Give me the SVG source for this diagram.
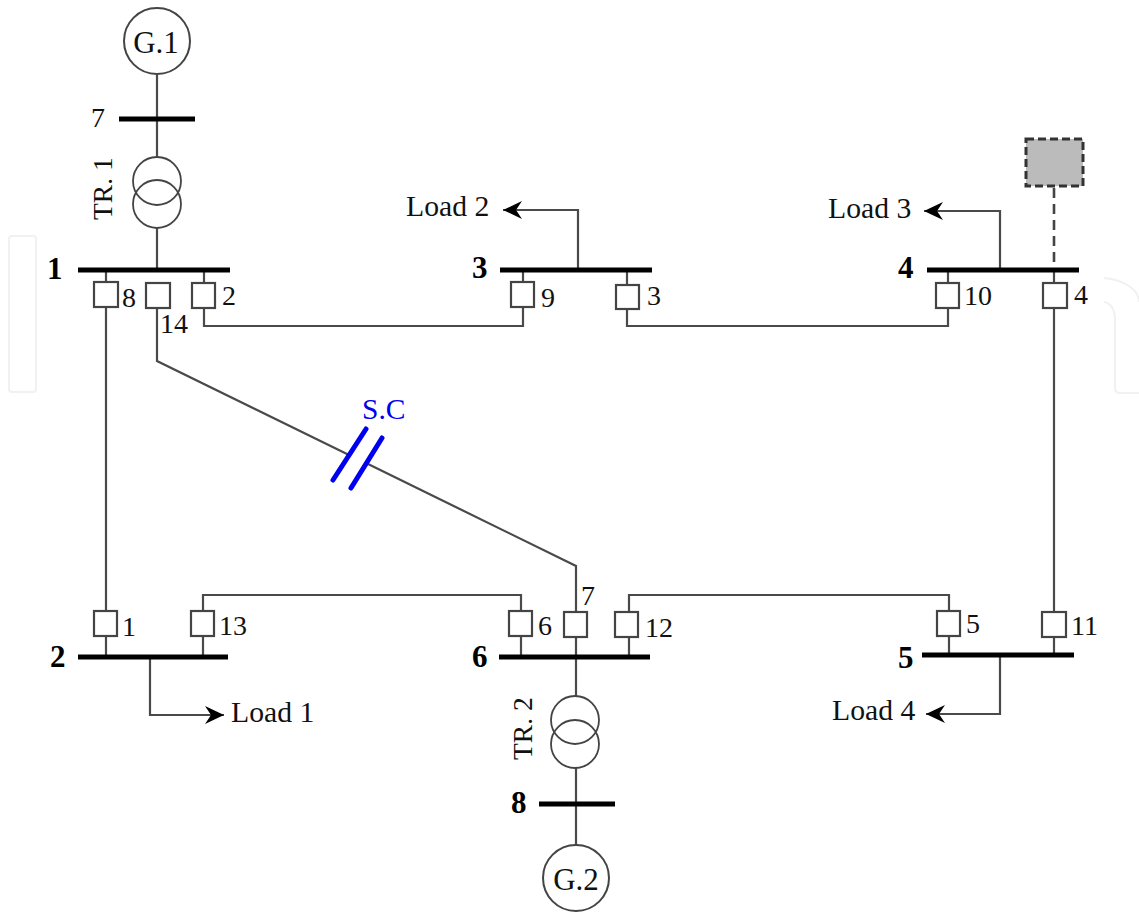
<svg xmlns="http://www.w3.org/2000/svg" width="1139" height="914" viewBox="0 0 1139 914">
<defs>
<marker id="arr" markerUnits="userSpaceOnUse" markerWidth="22" markerHeight="20" refX="19" refY="10" orient="auto"><path d="M0 1 L19 10 L0 19 L6 10 Z" fill="#000"/></marker>
</defs>
<style>
text{font-family:"Liberation Serif","Times New Roman",serif;fill:#111}
.l{font-size:29.7px}
.tr{font-size:27.5px}
.n{font-size:28px}
.b{font-size:31px;font-weight:bold;fill:#000}
.bus{stroke:#000;stroke-width:5;fill:none}
.w{stroke:#4a4a4a;stroke-width:2.2;fill:none}
.t{stroke:#444;stroke-width:1.8;fill:none}
.sw{fill:#fff;stroke:#444;stroke-width:2.2}
</style>
<rect width="1139" height="914" fill="#fff"/>
<g id="watermark" fill="none" stroke="#f1f1f1" stroke-width="2">
<rect x="9" y="236" width="27" height="156" rx="3"/>
<path d="M1104 278 C1125 280 1139 290 1139 302 M1104 302 C1111 303 1115 310 1115 320 L1115 388 Q1115 393 1120 393 L1139 393"/>
</g>
<g id="connectors">
<path class="w" d="M157 75V157M157 228V270"/>
<path class="w" d="M106 270V284M106 307V610M106 637V657"/>
<path class="w" d="M157 282V361L348 454.5M366 463L576 566V611"/>
<path class="w" d="M204 270V284M204 307V326H523V307M523 270V284"/>
<path class="w" d="M627 270V285M627 308V326H948V308M948 270V285"/>
<path class="w" d="M1054 308V613M1054 270V285M1054 636V655"/>
<path d="M1054 188V270" fill="none" stroke="#444" stroke-width="2.6" stroke-dasharray="10 6"/>
<path class="w" d="M578 270V210H503" marker-end="url(#arr)"/>
<path class="w" d="M1000 270V211H924" marker-end="url(#arr)"/>
<path class="w" d="M150 657V715H224" marker-end="url(#arr)"/>
<path class="w" d="M1000 655V714H926" marker-end="url(#arr)"/>
<path class="w" d="M203 611V595H521V612M203 636V657M521 636V657"/>
<path class="w" d="M629 612V595H949V612M629 637V657M949 636V655"/>
<path class="w" d="M576 636V696M576 768V855"/>
<path d="M333 480L366 429M351 488L382 438" fill="none" stroke="#0000f0" stroke-width="5" stroke-linecap="round"/>
</g>
<g id="bus-1"><path class="bus" d="M78 270H230"/><text class="b" x="47" y="279">1</text></g>
<g id="bus-2"><path class="bus" d="M78 657H228"/><text class="b" x="50" y="667">2</text></g>
<g id="bus-3"><path class="bus" d="M500 270H652"/><text class="b" x="472" y="278">3</text></g>
<g id="bus-4"><path class="bus" d="M927 270H1079"/><text class="b" x="898" y="278">4</text></g>
<g id="bus-5"><path class="bus" d="M922 655H1074"/><text class="b" x="898" y="668">5</text></g>
<g id="bus-6"><path class="bus" d="M499 657H650"/><text class="b" x="472" y="667">6</text></g>
<g id="bus-7"><path class="bus" d="M119 119H195"/><text class="n" x="91" y="127">7</text></g>
<g id="bus-8"><path class="bus" d="M539 804H615"/><text class="b" x="511" y="813">8</text></g>
<g id="gen-1"><circle cx="157" cy="41" r="33" fill="#fff" stroke="#444" stroke-width="2"/><text x="156" y="53" text-anchor="middle" style="font-size:31px">G.1</text></g>
<g id="gen-2"><circle cx="576" cy="878" r="33" fill="#fff" stroke="#444" stroke-width="2"/><text x="576" y="890" text-anchor="middle" style="font-size:31px">G.2</text></g>
<g id="tr-1"><circle class="t" cx="157" cy="181" r="24"/><circle class="t" cx="157" cy="204" r="24"/><text class="tr" transform="translate(112 220) rotate(-90)">TR. 1</text></g>
<g id="tr-2"><circle class="t" cx="575" cy="720" r="24"/><circle class="t" cx="575" cy="744" r="24"/><text class="tr" transform="translate(532 760) rotate(-90)">TR. 2</text></g>
<g id="sw-8"><rect class="sw" x="94" y="282" width="24" height="25"/><text class="n" x="122" y="307">8</text></g>
<g id="sw-14"><rect class="sw" x="146" y="283" width="24" height="25"/><text class="n" x="160" y="333">14</text></g>
<g id="sw-2"><rect class="sw" x="192" y="283" width="23" height="25"/><text class="n" x="222" y="305">2</text></g>
<g id="sw-9"><rect class="sw" x="511" y="282" width="23" height="25"/><text class="n" x="541" y="307">9</text></g>
<g id="sw-3"><rect class="sw" x="616" y="285" width="23" height="24"/><text class="n" x="647" y="305">3</text></g>
<g id="sw-10"><rect class="sw" x="936" y="283" width="23" height="25"/><text class="n" x="964" y="305">10</text></g>
<g id="sw-4"><rect class="sw" x="1043" y="283" width="24" height="25"/><text class="n" x="1074" y="304">4</text></g>
<g id="sw-1"><rect class="sw" x="94" y="611" width="23" height="25"/><text class="n" x="122" y="636">1</text></g>
<g id="sw-13"><rect class="sw" x="191" y="611" width="23" height="25"/><text class="n" x="219" y="635">13</text></g>
<g id="sw-6"><rect class="sw" x="509" y="611" width="23" height="25"/><text class="n" x="538" y="635">6</text></g>
<g id="sw-7"><rect class="sw" x="564" y="612" width="23" height="25"/><text class="n" x="581" y="605">7</text></g>
<g id="sw-12"><rect class="sw" x="615" y="612" width="23" height="25"/><text class="n" x="645" y="637">12</text></g>
<g id="sw-5"><rect class="sw" x="937" y="611" width="23" height="25"/><text class="n" x="966" y="633">5</text></g>
<g id="sw-11"><rect class="sw" x="1042" y="612" width="24" height="25"/><text class="n" x="1071" y="635">11</text></g>
<g id="load-1"><text class="l" x="231" y="722">Load 1</text></g>
<g id="load-2"><text class="l" x="406" y="216">Load 2</text></g>
<g id="load-3"><text class="l" x="828" y="218">Load 3</text></g>
<g id="load-4"><text class="l" x="832" y="720">Load 4</text></g>
<g id="sc"><text x="362" y="419" style="font-size:29.5px;fill:#0000f0">S.C</text></g>
<g id="dg"><rect x="1026" y="139" width="57" height="47" fill="#bbb" stroke="#333" stroke-width="3" stroke-dasharray="8 4"/></g>
</svg>
